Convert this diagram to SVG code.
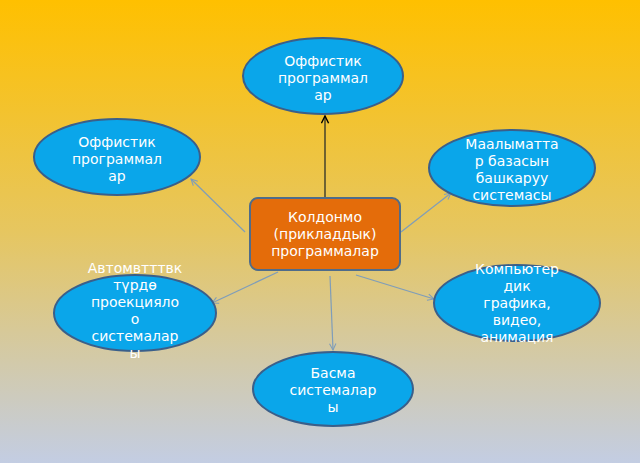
<svg xmlns="http://www.w3.org/2000/svg" width="640" height="463" viewBox="0 0 640 463">
<defs>
<linearGradient id="bg" x1="0" y1="0" x2="0" y2="1">
<stop offset="0" stop-color="#FFC000"/>
<stop offset="0.5" stop-color="#E6C660"/>
<stop offset="1" stop-color="#C3CDE3"/>
</linearGradient>
<marker id="a" viewBox="0 0 10 10" refX="9" refY="5" markerWidth="8" markerHeight="8" orient="auto-start-reverse" markerUnits="userSpaceOnUse">
<path d="M1,1 L9,5 L1,9" fill="none" stroke="#7F9DB9" stroke-width="1.3"/>
</marker>
<marker id="b" viewBox="0 0 10 10" refX="9" refY="5" markerWidth="9" markerHeight="9" orient="auto" markerUnits="userSpaceOnUse">
<path d="M1,1 L9,5 L1,9" fill="none" stroke="#000" stroke-width="1.6"/>
</marker>
</defs>
<style>
.e{fill:#0AA6EA;stroke:#3A5F8A;stroke-width:2}
.t{font-family:"DejaVu Sans",sans-serif;font-size:14px;fill:#fff;text-anchor:middle}
.c{stroke:#7F9DB9;stroke-width:1.2;fill:none;marker-end:url(#a)}
</style>
<rect width="640" height="463" fill="url(#bg)"/>
<g id="connectors">
<line x1="325" y1="198" x2="325" y2="116" stroke="#3a3a2a" stroke-width="1.4" marker-end="url(#b)"/>
<line class="c" x1="245" y1="232" x2="191" y2="179"/>
<line class="c" x1="401" y1="232" x2="451" y2="193"/>
<line class="c" x1="278" y1="272" x2="212" y2="303"/>
<line class="c" x1="356" y1="275" x2="434" y2="299"/>
<line class="c" x1="330" y1="276" x2="333" y2="350"/>
</g>
<g id="n1"><ellipse class="e" cx="323" cy="76" rx="80" ry="38"/>
<text class="t"><tspan x="323" y="66">Оффистик</tspan><tspan x="323" y="83">программал</tspan><tspan x="323" y="100">ар</tspan></text></g>
<g id="n2"><ellipse class="e" cx="117" cy="157" rx="83" ry="38"/>
<text class="t"><tspan x="117" y="147">Оффистик</tspan><tspan x="117" y="164">программал</tspan><tspan x="117" y="181">ар</tspan></text></g>
<g id="n3"><ellipse class="e" cx="512" cy="168" rx="83" ry="38"/>
<text class="t"><tspan x="512" y="149">Маалыматта</tspan><tspan x="512" y="166">р базасын</tspan><tspan x="512" y="183">башкаруу</tspan><tspan x="512" y="200">системасы</tspan></text></g>
<g id="center"><rect x="250" y="198" width="150" height="72" rx="8" fill="#E46C0A" stroke="#4F6C8A" stroke-width="2"/>
<text class="t"><tspan x="325" y="222">Колдонмо</tspan><tspan x="325" y="239">(прикладдык)</tspan><tspan x="325" y="256">программалар</tspan></text></g>
<g id="n4"><ellipse class="e" cx="135" cy="313" rx="81" ry="38"/>
<text class="t"><tspan x="135" y="273">Автомвтттвк</tspan><tspan x="135" y="290">түрдө</tspan><tspan x="135" y="307">проекцияло</tspan><tspan x="135" y="324">о</tspan><tspan x="135" y="341">системалар</tspan><tspan x="135" y="358">ы</tspan></text></g>
<g id="n5"><ellipse class="e" cx="517" cy="303" rx="83" ry="38"/>
<text class="t"><tspan x="517" y="274">Компьютер</tspan><tspan x="517" y="291">дик</tspan><tspan x="517" y="308">графика,</tspan><tspan x="517" y="325">видео,</tspan><tspan x="517" y="342">анимация</tspan></text></g>
<g id="n6"><ellipse class="e" cx="333" cy="389" rx="80" ry="37"/>
<text class="t"><tspan x="333" y="378">Басма</tspan><tspan x="333" y="395">системалар</tspan><tspan x="333" y="412">ы</tspan></text></g>
</svg>
